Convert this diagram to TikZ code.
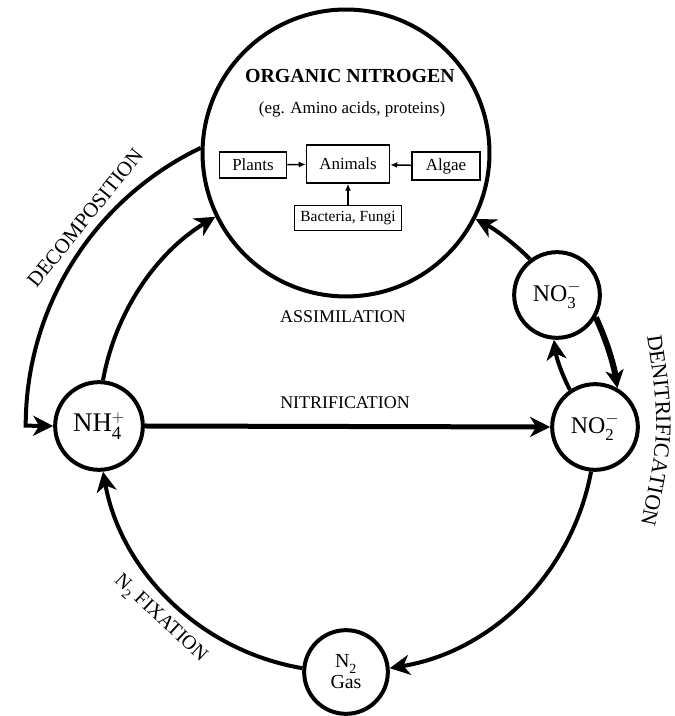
\documentclass[tikz,border=0pt]{standalone}
\usepackage{amsmath}
\usepackage{fontspec}
\setmainfont{Liberation Serif}
\usetikzlibrary{arrows.meta,decorations.text}
\newcommand{\fs}[1]{\fontsize{#1}{#1}\selectfont}
\newcommand{\ionss}[2]{\ensuremath{{}_{\text{#1}}^{#2}}}
\tikzset{
  ring/.style={circle, draw, line width=4bp, inner sep=0pt, minimum size=#1},
  arr/.style={line width=4bp, -{Stealth[length=20bp,width=20bp,inset=6bp]}},
  sarr/.style={line width=1.5bp, -{Latex[length=7bp,width=6bp]}},
  bx/.style={draw, line width=1.5bp, inner sep=0pt},
  lbl/.style={inner sep=0pt}
}
\begin{document}
\begin{tikzpicture}[x=1bp,y=1bp]
\useasboundingbox[fill=white] (0,0) rectangle (675,716);

% main nodes
\node[ring=288] (org) at (346,563) {};
\node[ring=88, font=\fs{27}] (nh4) at (99,290) {NH\ionss{4}{+}};
\node[ring=86, font=\fs{24}] (no2) at (595,289) {NO\ionss{2}{-}};
\node[ring=86, font=\fs{24}] (no3) at (557,421) {NO\ionss{3}{-}};
\node[ring=84, font=\fs{20}, align=center] (n2) at (346,44) {N\ionss{2}{}\\[1bp]Gas};

% inside organic nitrogen
\node[lbl, font=\bfseries\fs{20}] (orgt) at (350,640) {ORGANIC NITROGEN};
\node[lbl, font=\fs{17}] (orgs) at (352,607) {(eg. Amino acids, proteins)};
\node[bx, minimum width=67bp, minimum height=26bp, font=\fs{17}] (plants) at (253,551) {Plants};
\node[bx, minimum width=83bp, minimum height=38bp, font=\fs{17}] (animals) at (348,552) {Animals};
\node[bx, minimum width=68bp, minimum height=28bp, font=\fs{17}] (algae) at (446,550) {Algae};
\node[bx, minimum width=107bp, minimum height=25bp, font=\fs{15.5}] (bact) at (348,498) {Bacteria, Fungi};
\draw[sarr] (plants) -- (animals);
\draw[sarr] (algae) -- (animals);
\draw[sarr] (bact) -- (animals);

% labels
\node[lbl, font=\fs{18}] (assim) at (343,399) {ASSIMILATION};
\node[lbl, font=\fs{18}] (nitr) at (345,313) {NITRIFICATION};
\node[lbl, font=\fs{21}, rotate=51] (decomp) at (85,498) {DECOMPOSITION};
\node[lbl, font=\fs{20}, rotate=-43] (fix) at (160,97) {N\ionss{2}{} FIXATION};
\path[decorate, decoration={text along path, text align=center,
  text={|\fs{22}|DENITRIFICATION}}]
  (645,394) .. controls (661,286) .. (638,178);

% connectors
\draw[arr] (nh4.85) to[bend left=24.3, looseness=0.89] (org.206);
\draw[arr] (org.178) arc[start angle=115.6, end angle=180, radius=308] -- (nh4.west);
\draw[arr, line width=5bp] (nh4.east) -- (no2.west);
\draw[arr] (no3.127) to[bend right=8.6, looseness=0.86] (org.333);
\draw[arr] (no2.124) to[bend left=10, looseness=0.86] (no3.266);
\draw[line width=6bp, -{Stealth[length=18bp,width=18bp,inset=5bp]}] (no3.330) to[bend left=8, looseness=0.86] (no2.60);
\draw[arr] (no2.265) to[bend left=35, looseness=0.94] (n2.5);
\draw[arr] (n2.175) to[bend left=35, looseness=0.94] (nh4.275);
\end{tikzpicture}
\end{document}
